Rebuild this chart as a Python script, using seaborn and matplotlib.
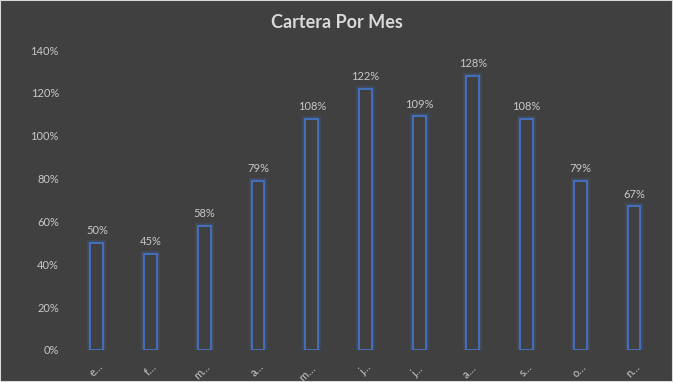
import matplotlib
matplotlib.use("Agg")
import matplotlib.pyplot as plt
import matplotlib.patheffects as pe
import seaborn as sns
import pandas as pd

# values (as fractions)
months = ["e…", "f…", "m…", "a…", "m… ", "j…", "j… ", "a… ", "s…", "o…", "n…"]
cartera = [0.50, 0.45, 0.58, 0.79, 1.08, 1.22, 1.09, 1.28, 1.08, 0.79, 0.67]
labels = ["50%", "45%", "58%", "79%", "108%", "122%", "109%", "128%", "108%", "79%", "67%"]
yticks = [0, 0.2, 0.4, 0.6, 0.8, 1.0, 1.2, 1.4]

bg = "#404040"
blue = "#4472C4"
txt = "#D9D9D9"

sns.set_theme(style="white")
plt.rcParams["font.family"] = ["Lato", "DejaVu Sans"]

df = pd.DataFrame({"mes": months, "cartera": cartera})

fig = plt.figure(figsize=(6.73, 3.82), dpi=100, facecolor=bg)
ax = fig.add_axes([0.104, 0.084, 0.878, 0.785])
ax.set_facecolor(bg)

sns.barplot(data=df, x="mes", y="cartera", width=0.24, ax=ax, color=blue)
for p in ax.patches:
    p.set_facecolor(bg)
    p.set_edgecolor(blue)
    p.set_linewidth(1.3)
    p.set_path_effects([pe.Stroke(linewidth=4, foreground=blue, alpha=0.25), pe.Normal()])

for i, (v, lab) in enumerate(zip(cartera, labels)):
    ax.text(i, v + 0.03, lab, ha="center", va="bottom", fontsize=8, color="#C8C8C8")

ax.set_ylim(0, 1.4)
ax.set_yticks(yticks)
ax.set_yticklabels([f"{int(round(t * 100))}%" for t in yticks], fontsize=8, color="#C8C8C8")
ax.set_xticks(range(len(months)))
ax.set_xticklabels(months, rotation=45, fontsize=8, color="#C8C8C8", ha="right", rotation_mode="anchor")
ax.set_xlim(-0.5, len(months) - 0.5)
ax.set_xlabel("")
ax.set_ylabel("")
ax.tick_params(axis="both", length=0, pad=8)
for s in ax.spines.values():
    s.set_visible(False)

fig.text(0.5, 0.94, "Cartera Por Mes", ha="center", va="center", fontsize=13,
         fontweight="bold", color=txt)

# thin light border around the chart area
fig.patches.append(plt.Rectangle((0, 0), 1, 1, transform=fig.transFigure, fill=False,
                                 edgecolor="#D9D9D9", linewidth=1.5))

fig.savefig("out.png", dpi=100, facecolor=bg)
